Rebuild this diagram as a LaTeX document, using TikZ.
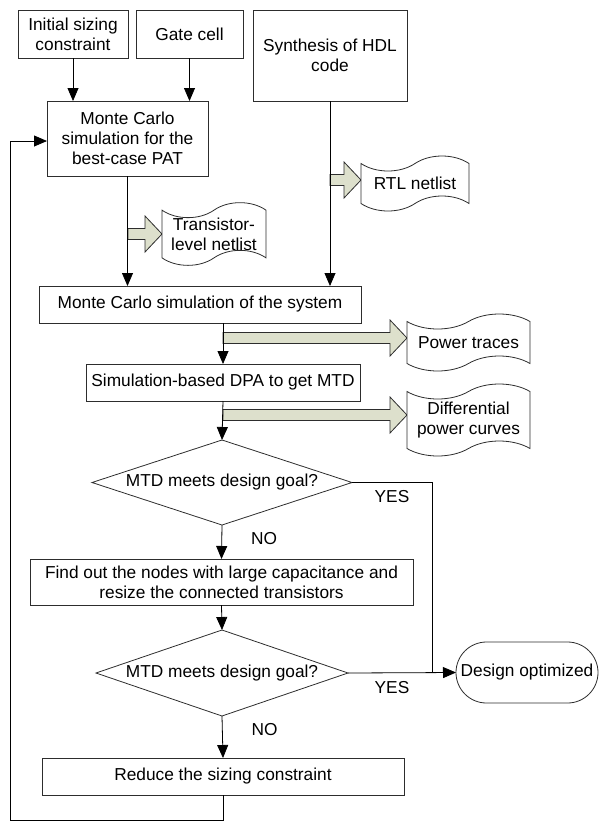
\documentclass[tikz,border=0pt]{standalone}
\usepackage{fontspec}
\setmainfont{Liberation Sans}
\usetikzlibrary{shapes.geometric,shapes.symbols,shapes.misc,arrows.meta}
\definecolor{barfill}{RGB}{221,224,204}
\definecolor{linec}{RGB}{45,45,45}
\newcommand\blockarr[3]{%
  \filldraw[barrow] ({#1},{#3-5.5}) -- ({#2-17},{#3-5.5}) -- ({#2-17},{#3-18}) -- ({#2},{#3})
   -- ({#2-17},{#3+18}) -- ({#2-17},{#3+5.5}) -- ({#1},{#3+5.5}) -- cycle;}
\begin{document}
\begin{tikzpicture}[x=1pt,y=-1pt,
  font=\fontsize{17.3}{20}\selectfont,
  every node/.style={inner sep=0pt, outer sep=0pt},
  box/.style={draw=linec, line width=0.8pt, align=center, fill=white},
  dec/.style={draw=linec, line width=0.8pt, diamond, aspect=3, align=center},
  doc/.style={draw=linec, line width=0.8pt, tape, tape bend height=15pt, align=center, fill=white},
  term/.style={draw=linec, line width=0.8pt, rounded rectangle, align=center},
  conn/.style={draw=black, line width=0.8pt},
  arr/.style={conn, -{Triangle[length=13pt,width=11pt]}},
  barrow/.style={fill=barfill, draw=linec, line width=0.8pt}]
\useasboundingbox (0,0) rectangle (598,823);

% block arrows (drawn first)
\blockarr{128}{162}{234}
\blockarr{330}{361}{180}
\blockarr{223}{407}{338}
\blockarr{223}{407}{415}

% nodes
\node[box, minimum width=110, minimum height=48] (init) at (73,34) {Initial sizing\\constraint};
\node[box, minimum width=107, minimum height=48] (gate) at (189.5,34) {Gate cell};
\node[box, minimum width=154, minimum height=91] (synth) at (330,55.5) {Synthesis of HDL\\code};
\node[box, minimum width=161, minimum height=75] (pat) at (127.5,138.5) {Monte Carlo\\simulation for the\\best-case PAT};
\node[doc, minimum width=104, minimum height=62] (tnet) at (214,234) {Transistor-\\level netlist};
\node[doc, minimum width=108, minimum height=55] (rtl) at (415,183.5) {RTL netlist};
\node[box, minimum width=322, minimum height=37] (sys) at (200,304.5) {Monte Carlo simulation of the system};
\node[doc, minimum width=123, minimum height=57] (pwr) at (468.5,342.5) {Power traces};
\node[box, minimum width=274, minimum height=37] (dpa) at (223,382.5) {Simulation-based DPA to get MTD};
\node[doc, minimum width=123, minimum height=72] (diff) at (468.5,420) {Differential\\power curves};
\node[dec, minimum width=260, minimum height=85] (d1) at (222,482.5) {MTD meets design goal?};
\node[box, minimum width=383, minimum height=46] (find) at (221.5,582) {Find out the nodes with large capacitance and\\resize the connected transistors};
\node[dec, minimum width=252, minimum height=86] (d2) at (222,673) {MTD meets design goal?};
\node[box, minimum width=362, minimum height=37] (red) at (223,776.5) {Reduce the sizing constraint};
\node[term, minimum width=142, minimum height=61] (done) at (527,672.5) {Design optimized};

% labels
\node (yes1) at (392,497) {YES};
\node (no1) at (264,539) {NO};
\node (yes2) at (392,688) {YES};
\node (no2) at (264.5,730) {NO};

% connectors
\coordinate (j) at (432,673);
\coordinate (lb) at (10,820);
\draw[arr] (init.south) -- (init.south |- pat.north);
\draw[arr] (gate.south) -- (gate.south |- pat.north);
\draw[arr] (pat.south) -- (pat.south |- sys.north);
\draw[arr] (synth.south) -- (synth.south |- sys.north);
\draw[arr] (sys.south -| dpa.north) -- (dpa.north);
\draw[arr] (dpa.south) -- (d1.north);
\draw[arr] (d1.south) -- (find.north);
\draw[arr] (find.south) -- (d2.north);
\draw[arr] (d2.south) -- (red.north);
\draw[arr] (d2.east) -- (done.west);
\draw[conn] (d1.east) -| (j);
\draw[arr] (red.south) |- (lb) |- ([yshift=-2.5pt]pat.west);
\end{tikzpicture}
\end{document}
